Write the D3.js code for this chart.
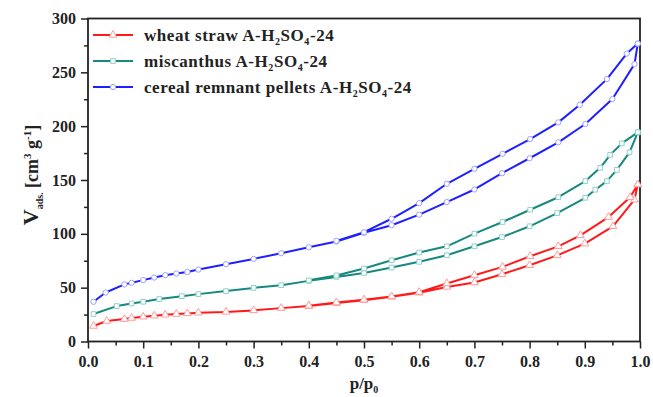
<!DOCTYPE html>
<html>
<head>
<meta charset="utf-8">
<script src="https://cdn.jsdelivr.net/npm/d3@7"></script>
<style>
  body { margin: 0; background: #fff; }
  text { font-family: "Liberation Serif", "Times New Roman", serif; font-weight: bold; }
</style>
</head>
<body>
<svg id="chart" width="653" height="397"></svg>
<script>
// [p/p0, V]; adsorption goes up, desorption comes back
const wheatAds = [[0.01,14.4],[0.034,19],[0.066,20.8],[0.079,21.8],[0.1,23],[0.12,23.9],[0.14,24.8],[0.16,25.5],[0.18,26.1],[0.2,26.7],[0.25,27.5],[0.3,28.9],[0.35,31],[0.4,32.9],[0.45,35.7],[0.5,38.4],[0.55,41.5],[0.6,45.3],[0.65,50.7],[0.7,54.8],[0.75,62.5],[0.8,70.8],[0.85,80],[0.9,90.9],[0.951,107],[0.99,131.7],[0.996,145.8]];
const wheatDes = [[0.996,145.8],[0.982,134],[0.943,115.6],[0.892,98.6],[0.852,88.4],[0.801,79.2],[0.751,69.3],[0.7,61.6],[0.65,53.9],[0.6,45.8],[0.55,41.8],[0.5,38.8],[0.45,36.2],[0.4,33.2]];
const miscAds = [[0.01,25.5],[0.052,32.9],[0.079,35.3],[0.1,36.9],[0.129,39.4],[0.17,42.1],[0.2,44],[0.25,46.8],[0.3,49.8],[0.35,52.3],[0.4,56.3],[0.45,60],[0.5,63.7],[0.55,68.7],[0.6,74],[0.65,80.1],[0.7,88.4],[0.75,97],[0.8,107],[0.85,119.3],[0.901,133.5],[0.919,141],[0.94,149],[0.958,159.4],[0.981,175.7],[0.996,194.3]];
const miscDes = [[0.996,194.3],[0.967,184],[0.946,173.3],[0.928,161.3],[0.901,149],[0.852,134],[0.801,122.4],[0.751,111],[0.7,100.2],[0.65,88.4],[0.6,82.6],[0.55,75.5],[0.5,67.8],[0.45,61.3],[0.4,56.8]];
const cerealAds = [[0.01,36.9],[0.032,45.5],[0.066,53],[0.079,54.5],[0.1,57],[0.12,59.4],[0.14,61.6],[0.16,63.1],[0.18,64.6],[0.2,66.8],[0.25,71.8],[0.3,76.7],[0.35,82],[0.4,87.5],[0.45,92.8],[0.5,101],[0.55,108],[0.6,117.8],[0.65,129.5],[0.7,141.2],[0.75,156.3],[0.8,170.2],[0.852,185],[0.901,202],[0.95,225.2],[0.99,257.6],[0.996,276.7]];
const cerealDes = [[0.996,276.7],[0.976,267.4],[0.94,243.7],[0.891,219.9],[0.852,203.5],[0.801,188],[0.751,174.3],[0.7,160.4],[0.65,146.5],[0.6,128.5],[0.55,114],[0.5,101.5],[0.45,93.5]];

const seriesNames = ["wheat straw", "miscanthus", "cereal remnant pellets"];
const seriesColors = ["#ff1a1a", "#17897f", "#1f1fff"];
const markerColors = ["#ff9c9c", "#8fd0c8", "#a0a0ff"];
const seriesShapes = [d3.symbolTriangle, d3.symbolSquare, d3.symbolCircle];
const seriesData = [wheatAds.concat(wheatDes), miscAds.concat(miscDes), cerealAds.concat(cerealDes)];

const xTicks = [0, 0.1, 0.2, 0.3, 0.4, 0.5, 0.6, 0.7, 0.8, 0.9, 1.0];
const yTicks = [0, 50, 100, 150, 200, 250, 300];

const svg = d3.select("#chart");
const margin = {left: 88, right: 13, top: 18.5, bottom: 55.5};
const width = 653 - margin.left - margin.right;
const height = 397 - margin.top - margin.bottom;

const x = d3.scaleLinear().domain([0, 1]).range([0, width]);
const y = d3.scaleLinear().domain([0, 300]).range([height, 0]);

const g = svg.append("g").attr("transform", `translate(${margin.left},${margin.top})`);

// minor ticks first, then major ones with labels
g.append("g").attr("transform", `translate(0,${height})`)
  .call(d3.axisBottom(x).tickValues(d3.range(0.05, 1, 0.1)).tickSize(4).tickFormat(""))
  .call(a => a.select(".domain").remove())
  .selectAll("line").attr("stroke", "#222").attr("stroke-width", 1.5);
g.append("g").call(d3.axisLeft(y).tickValues(d3.range(25, 300, 50)).tickSize(4).tickFormat(""))
  .call(a => a.select(".domain").remove())
  .selectAll("line").attr("stroke", "#222").attr("stroke-width", 1.5);

const xAxis = g.append("g").attr("transform", `translate(0,${height})`)
  .call(d3.axisBottom(x).tickValues(xTicks).tickSize(7).tickPadding(7).tickFormat(d3.format(".1f")));
const yAxis = g.append("g")
  .call(d3.axisLeft(y).tickValues(yTicks).tickSize(7).tickPadding(5).tickFormat(d3.format("d")));
[xAxis, yAxis].forEach(a => {
  a.selectAll("line").attr("stroke", "#222").attr("stroke-width", 1.5);
  a.select(".domain").remove();
  a.selectAll("text").attr("fill", "#222").style("font-size", "16px").style("font-family", "Liberation Serif").style("font-weight", "bold");
});

// frame
g.append("rect").attr("width", width).attr("height", height)
  .attr("fill", "none").attr("stroke", "#222").attr("stroke-width", 1.8);

const line = d3.line().x(d => x(d[0])).y(d => y(d[1]));

seriesData.forEach((data, i) => {
  g.append("path").datum(data)
    .attr("d", line)
    .attr("fill", "none")
    .attr("stroke", seriesColors[i])
    .attr("stroke-width", 2)
    .attr("stroke-linejoin", "round");
  g.append("g").selectAll("path")
    .data(data)
    .join("path")
    .attr("transform", d => `translate(${x(d[0])},${y(d[1])})`)
    .attr("d", d3.symbol().type(seriesShapes[i]).size(i === 0 ? 26 : 22))
    .attr("fill", "#fff")
    .attr("stroke", markerColors[i])
    .attr("stroke-width", 1);
});

// legend
const legend = g.append("g").attr("transform", "translate(5,16.5)");
seriesNames.forEach((name, i) => {
  const row = legend.append("g").attr("transform", `translate(0,${i * 26})`);
  row.append("line").attr("x1", 0).attr("x2", 40).attr("y1", 0).attr("y2", 0)
    .attr("stroke", seriesColors[i]).attr("stroke-width", 2);
  row.append("path").attr("transform", "translate(20,0)")
    .attr("d", d3.symbol().type(seriesShapes[i]).size(i === 0 ? 26 : 22))
    .attr("fill", "#fff").attr("stroke", markerColors[i]).attr("stroke-width", 1);
  const t = row.append("text").attr("x", 51).attr("y", 5.5).attr("fill", "#222")
    .style("font-size", "17px").style("letter-spacing", "0.55px");
  t.append("tspan").text(name + " A-H");
  t.append("tspan").text("2").attr("dy", 4).style("font-size", "10px");
  t.append("tspan").text("SO").attr("dy", -4);
  t.append("tspan").text("4").attr("dy", 4).style("font-size", "10px");
  t.append("tspan").text("-24").attr("dy", -4);
});

// axis titles
const xt = svg.append("text").attr("x", margin.left + width / 2).attr("y", 389)
  .attr("text-anchor", "middle").attr("fill", "#222").style("font-size", "17px");
xt.append("tspan").text("p/p");
xt.append("tspan").text("0").attr("dy", 4).style("font-size", "10px");

const yt = svg.append("text")
  .attr("transform", `translate(38,${175}) rotate(-90)`)
  .attr("text-anchor", "middle").attr("fill", "#222").style("font-size", "18px");
yt.append("tspan").text("V").style("font-size", "22px");
yt.append("tspan").text("ads.").attr("dy", 5).style("font-size", "10px");
yt.append("tspan").text(" [cm").attr("dy", -5);
yt.append("tspan").text("3").attr("dy", -7).style("font-size", "11px");
yt.append("tspan").text(" g").attr("dy", 7);
yt.append("tspan").text("-1").attr("dy", -7).style("font-size", "11px");
yt.append("tspan").text("]").attr("dy", 7);
</script>
</body>
</html>
